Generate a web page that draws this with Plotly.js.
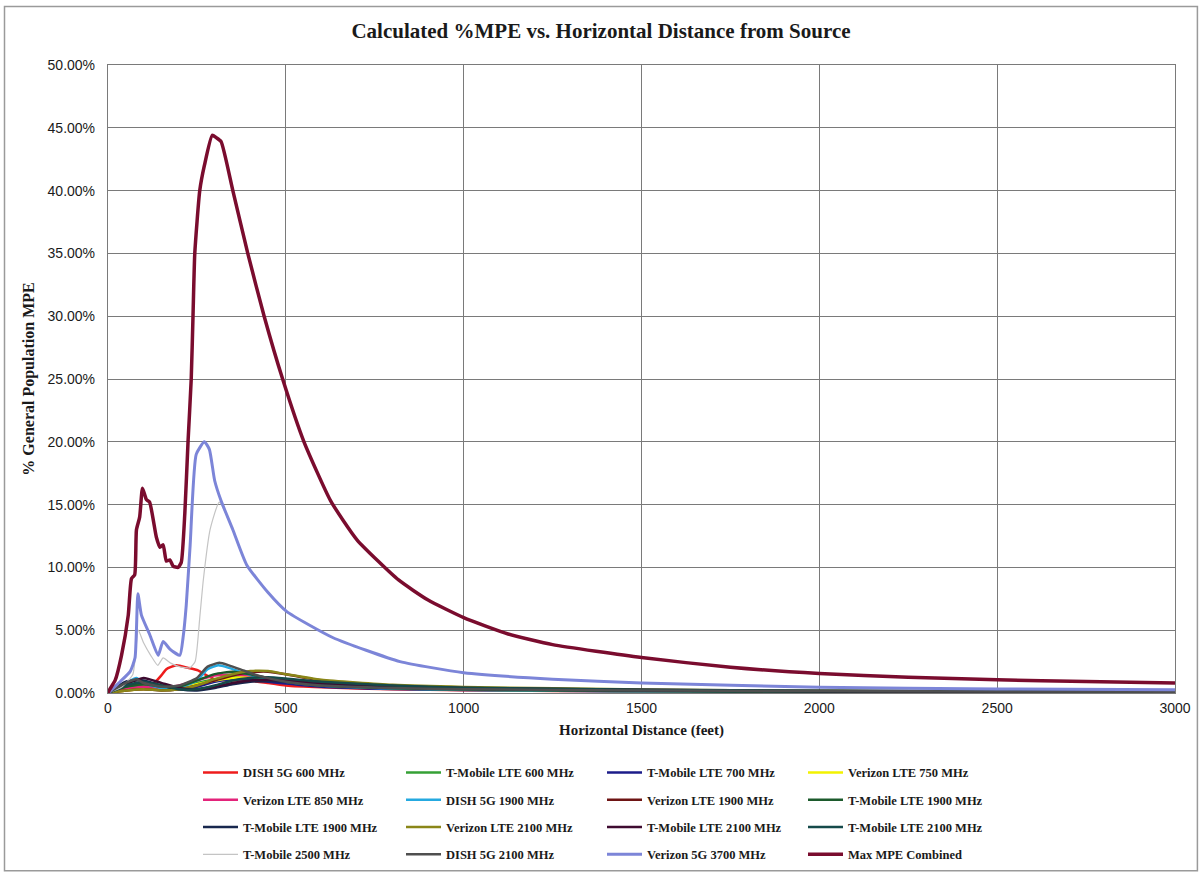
<!DOCTYPE html>
<html>
<head>
<meta charset="utf-8">
<script src="https://cdn.plot.ly/plotly-3.0.1.min.js"></script>
<style>html,body{margin:0;padding:0;background:#fff;}#chart{width:1202px;height:875px;}</style>
</head>
<body>
<div id="chart"></div>
<script>
// Distances in feet, values in % of general population MPE
const xCommon = [0, 50, 100, 150, 200, 250, 300, 350, 400, 450, 500, 600, 800, 1000, 1500, 2000, 3000];

const dish600X = [0, 40, 80, 110, 132, 150, 164, 192, 225, 253, 271, 300, 340, 392, 450, 500, 600, 800, 1000, 1500, 2000, 3000];
const dish600Y = [0, 0.3, 0.5, 0.5, 0.85, 1.4, 1.9, 2.2, 2.0, 1.8, 1.5, 1.1, 1.0, 1.0, 0.8, 0.6, 0.45, 0.3, 0.22, 0.12, 0.08, 0.04];

const tmo600Y  = [0, 0.5, 0.6, 0.4, 0.5, 0.8, 1.1, 1.25, 1.2, 1.0, 0.8, 0.55, 0.35, 0.25, 0.14, 0.09, 0.05];
const tmo700Y  = [0, 0.6, 0.8, 0.5, 0.3, 0.5, 0.9, 1.1, 1.05, 0.9, 0.75, 0.5, 0.32, 0.24, 0.14, 0.09, 0.05];
const vz750Y   = [0, 0.2, 0.3, 0.3, 0.4, 0.7, 1.0, 1.2, 1.3, 1.2, 1.0, 0.65, 0.4, 0.28, 0.15, 0.1, 0.05];
const vz850Y   = [0, 0.3, 0.5, 0.4, 0.6, 1.0, 1.4, 1.45, 1.4, 1.2, 1.0, 0.7, 0.42, 0.3, 0.16, 0.1, 0.06];

const dish1900X = [0, 50, 80, 100, 150, 200, 250, 280, 310, 340, 380, 420, 500, 600, 800, 1000, 1500, 2000, 3000];
const dish1900Y = [0, 0.8, 1.2, 0.8, 0.4, 0.4, 1.0, 1.9, 2.2, 2.0, 1.6, 1.3, 0.9, 0.6, 0.35, 0.25, 0.13, 0.08, 0.04];

const vz1900Y    = [0, 0.2, 0.3, 0.2, 0.3, 0.6, 1.0, 1.4, 1.65, 1.7, 1.5, 1.0, 0.55, 0.35, 0.18, 0.11, 0.06];
const tmo1900aY  = [0, 0.5, 0.7, 0.5, 0.5, 1.0, 1.5, 1.7, 1.5, 1.2, 0.9, 0.6, 0.38, 0.27, 0.15, 0.1, 0.05];
const tmo1900bY  = [0, 0.9, 1.0, 0.6, 0.3, 0.2, 0.4, 0.7, 0.9, 0.95, 0.9, 0.7, 0.45, 0.33, 0.2, 0.13, 0.07];
const vz2100Y    = [0, 0.2, 0.3, 0.2, 0.3, 0.6, 1.1, 1.5, 1.75, 1.75, 1.5, 1.05, 0.65, 0.48, 0.28, 0.18, 0.1];
const tmo2100aY  = [0, 0.7, 1.2, 0.8, 0.4, 0.3, 0.5, 0.8, 1.0, 1.05, 1.0, 0.8, 0.55, 0.4, 0.25, 0.16, 0.09];
const tmo2100bY  = [0, 0.6, 0.9, 0.6, 0.3, 0.3, 0.6, 1.0, 1.2, 1.25, 1.15, 0.9, 0.6, 0.42, 0.26, 0.17, 0.1];

const tmo2500X = [0, 40, 70, 85, 100, 120, 140, 155, 175, 200, 230, 245, 258, 268, 287, 313, 351, 390, 450, 502, 633, 821, 1000, 1250, 1500, 2000, 2500, 3000];
const tmo2500Y = [0, 0.5, 1.5, 5.0, 4.0, 3.0, 2.2, 2.8, 2.4, 2.1, 2.0, 2.5, 6.0, 9.0, 13.0, 15.2, 13.0, 10.2, 8.0, 6.5, 4.4, 2.5, 1.62, 1.1, 0.8, 0.45, 0.32, 0.25];

const dish2100X = [0, 50, 80, 100, 150, 200, 250, 280, 313, 340, 380, 420, 500, 600, 800, 1000, 1500, 2000, 3000];
const dish2100Y = [0, 0.8, 1.1, 0.8, 0.5, 0.6, 1.2, 2.1, 2.4, 2.2, 1.8, 1.4, 0.9, 0.6, 0.4, 0.3, 0.2, 0.15, 0.1];

const vz3700X = [0, 34, 62, 76, 84, 94, 118, 141, 155, 174, 202, 211, 220, 231, 248, 271, 285, 300, 318, 351, 390, 450, 502, 633, 821, 1000, 1250, 1500, 2000, 2500, 3000];
const vz3700Y = [0, 0.9, 1.7, 2.8, 7.9, 6.2, 4.6, 3.0, 4.1, 3.5, 3.0, 4.4, 7.0, 11.8, 19.0, 20.0, 19.4, 16.9, 15.3, 13.0, 10.2, 8.0, 6.5, 4.4, 2.5, 1.62, 1.1, 0.8, 0.45, 0.32, 0.25];

const maxX = [0, 5, 20, 38, 57, 66, 75, 80, 89, 97, 108, 117, 136, 146, 155, 164, 174, 183, 197, 206, 216, 225, 234, 239, 244, 258, 271, 293, 305, 318, 351, 393, 439, 491, 551, 626, 700, 817, 900, 1000, 1125, 1250, 1500, 1750, 2000, 2250, 2500, 2750, 3000];
const maxY = [0, 0.3, 1.0, 3.0, 6.2, 9.1, 9.4, 13.0, 14.0, 16.3, 15.4, 15.2, 12.4, 11.6, 11.8, 10.5, 10.6, 10.1, 10.0, 10.4, 14.3, 20.0, 25.0, 30.0, 35.0, 40.0, 42.0, 44.4, 44.2, 43.9, 40.0, 35.0, 30.0, 25.0, 20.0, 15.3, 12.2, 9.0, 7.4, 6.0, 4.7, 3.85, 2.82, 2.05, 1.55, 1.25, 1.05, 0.92, 0.8];

const seriesNames = [
  'DISH 5G 600 MHz', 'T-Mobile LTE 600 MHz', 'T-Mobile LTE 700 MHz', 'Verizon LTE 750 MHz',
  'Verizon LTE 850 MHz', 'DISH 5G 1900 MHz', 'Verizon LTE 1900 MHz', 'T-Mobile LTE 1900 MHz',
  'T-Mobile LTE 1900 MHz', 'Verizon LTE 2100 MHz', 'T-Mobile LTE 2100 MHz', 'T-Mobile LTE 2100 MHz',
  'T-Mobile 2500 MHz', 'DISH 5G 2100 MHz', 'Verizon 5G 3700 MHz', 'Max MPE Combined'
];
const seriesX = [dish600X, xCommon, xCommon, xCommon, xCommon, dish1900X, xCommon, xCommon,
  xCommon, xCommon, xCommon, xCommon, tmo2500X, dish2100X, vz3700X, maxX];
const seriesY = [dish600Y, tmo600Y, tmo700Y, vz750Y, vz850Y, dish1900Y, vz1900Y, tmo1900aY,
  tmo1900bY, vz2100Y, tmo2100aY, tmo2100bY, tmo2500Y, dish2100Y, vz3700Y, maxY];
const seriesColors = ['#ee1c1c', '#35a035', '#1c1c8a', '#f2f200', '#e3237a', '#25a9e0', '#6e1414', '#1c5a2c',
  '#18284e', '#8a8618', '#3e0b30', '#154a4a', '#c4c4c4', '#4f4f4f', '#7c85d8', '#7a0c2e'];
const seriesWidths = [2.5, 2.5, 2.5, 2.5, 2.5, 2.5, 2.5, 2.5, 2.5, 2.5, 2.5, 2.5, 1.2, 2.5, 3, 3.5];

const legendIds = ['legend', 'legend2', 'legend3', 'legend4'];
const traces = seriesNames.map((n, i) => ({
  type: 'scatter', mode: 'lines',
  name: n,
  legend: legendIds[i % 4],
  legendgroup: 'g' + i,
  x: seriesX[i], y: seriesY[i],
  line: {color: seriesColors[i], width: seriesWidths[i], shape: 'spline', smoothing: 0.5}
}));

const serif = 'Liberation Serif, Times New Roman, serif';
const colPx = [198, 401, 602, 803];
function legendCfg(k) {
  return {
    orientation: 'v', x: (colPx[k] - 108) / 1067, xanchor: 'left', y: -0.1035, yanchor: 'top',
    itemwidth: 35, traceorder: 'grouped', tracegroupgap: 8,
    font: {family: serif, size: 12.5, weight: 'bold', color: '#1a1a1a'},
    bgcolor: 'rgba(0,0,0,0)'
  };
}

const layout = {
  width: 1202, height: 875,
  paper_bgcolor: '#ffffff', plot_bgcolor: '#ffffff',
  margin: {l: 108, r: 27, t: 65, b: 182, autoexpand: false},
  title: {text: 'Calculated %MPE vs. Horizontal Distance from Source', x: 0.5, xref: 'container', xanchor: 'center',
    y: 0.9646, yref: 'container', yanchor: 'middle',
    font: {family: serif, size: 21, weight: 'bold', color: '#1a1a1a'}},
  xaxis: {
    range: [0, 3000], dtick: 500, tick0: 0, showgrid: true, gridcolor: '#7a7a7a', gridwidth: 1.3,
    zeroline: false, showline: true, linecolor: '#7a7a7a', linewidth: 1.3, mirror: true,
    ticks: '', ticklabelstandoff: 2, tickfont: {family: 'Liberation Sans, Arial, sans-serif', size: 14, color: '#1a1a1a'},
    title: {text: 'Horizontal Distance (feet)', font: {family: serif, size: 15, weight: 'bold', color: '#1a1a1a'}, standoff: 9}
  },
  yaxis: {
    range: [0, 50], dtick: 5, tick0: 0, tickformat: '.2f', ticksuffix: '%',
    showgrid: true, gridcolor: '#7a7a7a', gridwidth: 1.3,
    zeroline: false, showline: true, linecolor: '#7a7a7a', linewidth: 1.3, mirror: true,
    ticks: '', ticklabelstandoff: 9, tickfont: {family: 'Liberation Sans, Arial, sans-serif', size: 14, color: '#1a1a1a'},
    title: {text: '% General Population MPE', font: {family: serif, size: 16, weight: 'bold', color: '#1a1a1a'}, standoff: 8}
  },
  showlegend: true,
  legend: legendCfg(0), legend2: legendCfg(1), legend3: legendCfg(2), legend4: legendCfg(3),
  shapes: [{type: 'rect', xref: 'paper', yref: 'paper', x0: -0.097, x1: 1.021, y0: -0.283, y1: 1.093,
    line: {color: '#9a9a9a', width: 1.5}, fillcolor: 'rgba(0,0,0,0)', layer: 'below'}]
};

Plotly.newPlot('chart', traces, layout, {displayModeBar: false, responsive: false});
</script>
</body>
</html>
